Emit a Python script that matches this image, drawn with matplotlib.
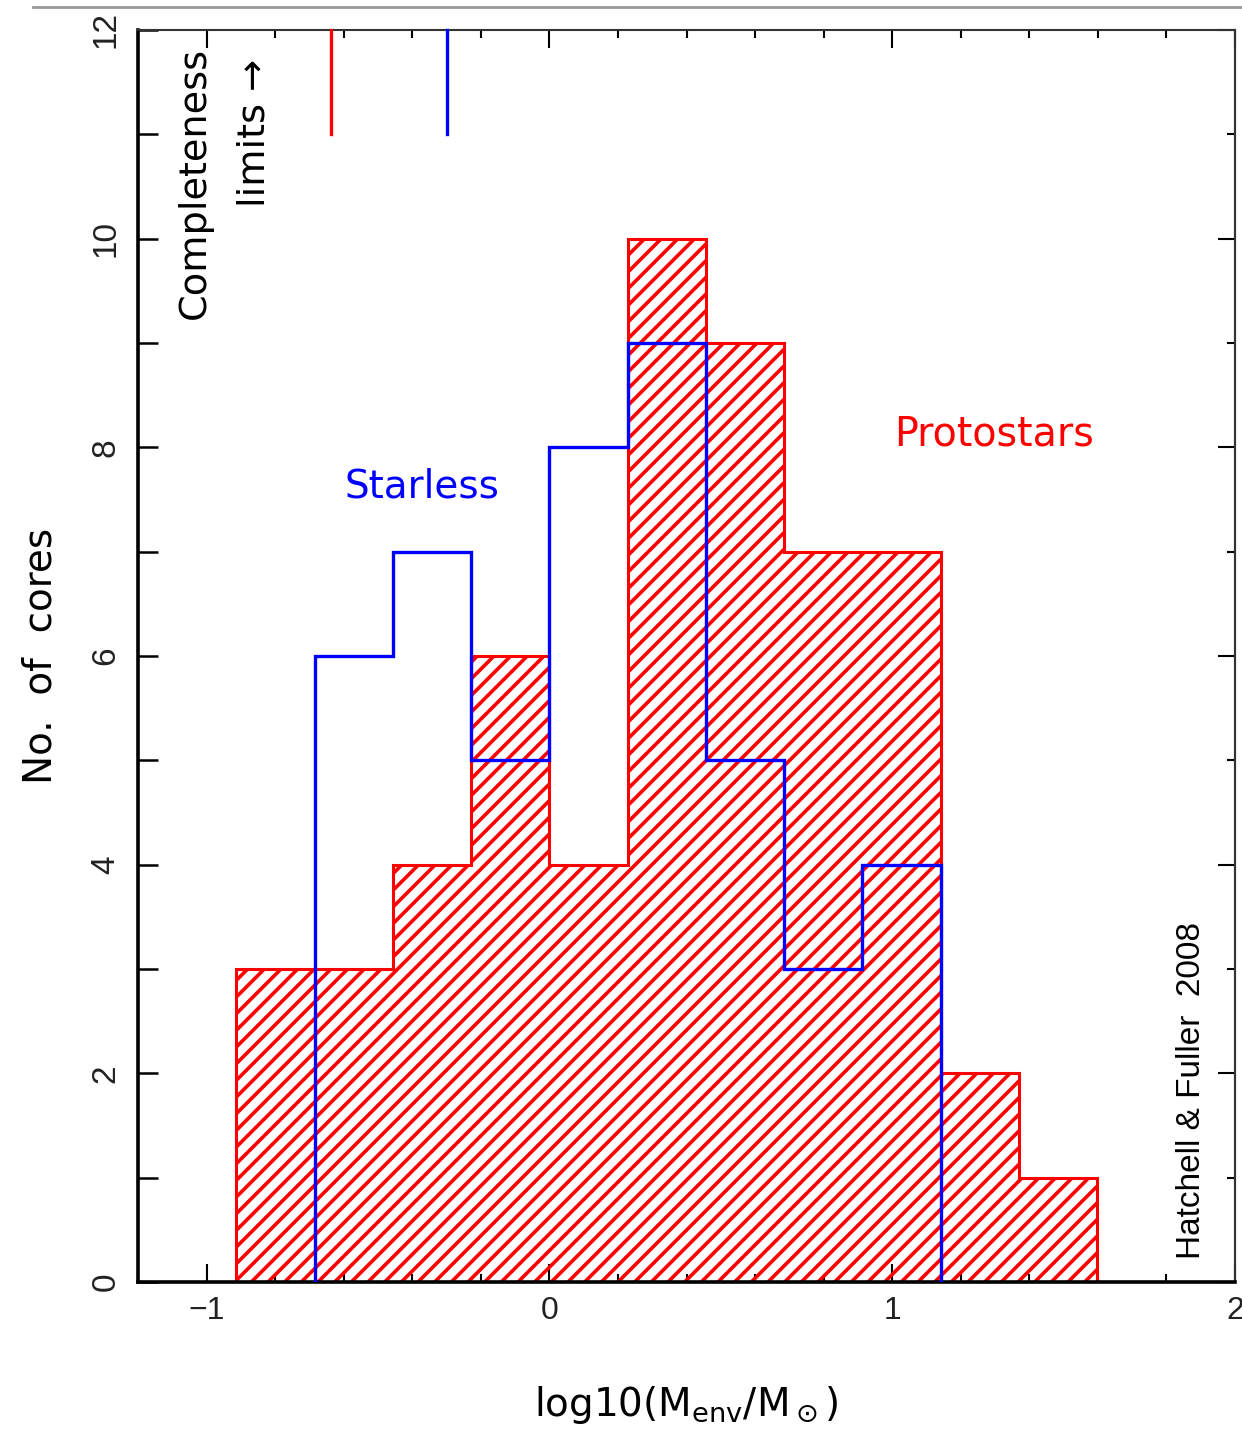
import numpy as np
import matplotlib
matplotlib.use('Agg')
import matplotlib.pyplot as plt
from matplotlib.ticker import MultipleLocator, FuncFormatter
from matplotlib.lines import Line2D

plt.rcParams['mathtext.fontset'] = 'dejavusans'
plt.rcParams['hatch.linewidth'] = 2.6

# bin edges in log10(M_env/Msun)
edges = [-0.913, -0.685, -0.457, -0.228, 0.0, 0.228, 0.457, 0.685, 0.913, 1.141, 1.370, 1.598]
protostars = [3, 3, 4, 6, 4, 10, 9, 7, 7, 2, 1]
starless_edges = [-0.685, -0.457, -0.228, 0.0, 0.228, 0.457, 0.685, 0.913, 1.141]
starless = [6, 7, 5, 8, 9, 5, 3, 4]
# completeness limits (protostars, starless)
limits = [-0.638, -0.300]
limit_colors = ['red', 'blue']

fig = plt.figure(figsize=(12.42, 14.35), dpi=100)
ax = fig.add_axes([0.1111, 0.1066, 0.8833, 0.8725])

# protostars: hatched red histogram
ax.stairs(protostars, edges, fill=True, facecolor='none', edgecolor='red',
          hatch='//', linewidth=2.2, zorder=2)
# starless: blue outline
ax.stairs(starless, starless_edges, color='blue', linewidth=2.4, zorder=3)

for xl, c in zip(limits, limit_colors):
    ax.plot([xl, xl], [11, 12], color=c, linewidth=2.4, zorder=3, clip_on=False)

ax.set_xlim(-1.2, 2.0)
ax.set_ylim(0, 12)

# x ticks
ax.xaxis.set_major_locator(MultipleLocator(1))
ax.xaxis.set_minor_locator(MultipleLocator(0.2))
ax.tick_params(axis='x', which='major', direction='in', length=13, width=1.5,
               top=True, labelsize=23, pad=10, labelcolor='#222')
ax.tick_params(axis='x', which='minor', direction='in', length=6, width=1.5, top=True)

# y ticks: all left ticks same length, labels only on even values
ax.yaxis.set_major_locator(MultipleLocator(1))
ax.yaxis.set_major_formatter(FuncFormatter(lambda v, p: '%d' % v if int(round(v)) % 2 == 0 else ''))
ax.tick_params(axis='y', which='major', direction='in', length=14.5, width=1.8,
               labelsize=24, pad=12, labelcolor='#222')
for lab in ax.get_yticklabels():
    lab.set_rotation(90)
    lab.set_va('center')

sec = ax.secondary_yaxis('right')
sec.yaxis.set_major_locator(MultipleLocator(2))
sec.yaxis.set_minor_locator(MultipleLocator(1))
sec.tick_params(which='major', direction='in', length=12, width=1.5, labelright=False)
sec.tick_params(which='minor', direction='in', length=6, width=1.5)
sec.spines['right'].set_linewidth(1.5)
sec.spines['right'].set_color('#333')

for lab in ax.get_xticklabels() + ax.get_yticklabels():
    lab.set_family('Liberation Sans')

ax.spines['left'].set_linewidth(2.6)
ax.spines['bottom'].set_linewidth(2.6)
ax.spines['top'].set_linewidth(1.5)
ax.spines['right'].set_linewidth(1.5)
ax.spines['top'].set_color('#333')
ax.spines['right'].set_color('#333')

ax.set_ylabel('No.  of  cores', fontsize=28, labelpad=22)
ax.set_xlabel(r'log10(M$_{\rm env}$/M$_\odot$)', fontsize=28, labelpad=42)

ax.text(-0.373, 7.62, 'Starless', color='blue', fontsize=28, ha='center', va='center')
ax.text(1.297, 8.12, 'Protostars', color='red', fontsize=28.5, ha='center', va='center')
ax.text(-1.035, 10.53, 'Completeness', fontsize=27.5, rotation=90, ha='center', va='center')
ax.text(-0.860, 11.01, 'limits \u2192', fontsize=27.5, rotation=90, ha='center', va='center')
ax.text(1.872, 1.84, 'Hatchell & Fuller  2008', fontsize=24, rotation=90,
        ha='center', va='center', family='Liberation Sans')

# grey rule at the very top of the page
fig.add_artist(Line2D([33 / 1242, 1.0], [1 - 7 / 1435, 1 - 7 / 1435], color='#999999', linewidth=2))

fig.savefig('out.png', dpi=100)
